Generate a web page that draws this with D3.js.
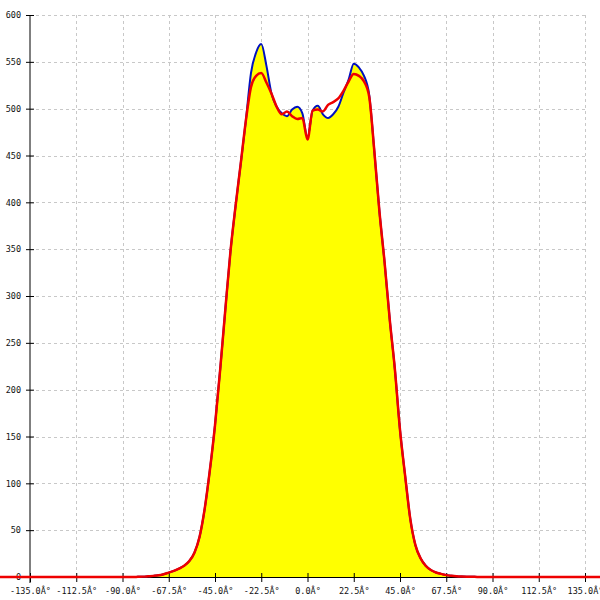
<!DOCTYPE html>
<html>
<head>
<meta charset="utf-8">
<script src="https://cdn.jsdelivr.net/npm/d3@7"></script>
<style>
html,body{margin:0;padding:0;background:#fff;}
svg{display:block;}
</style>
</head>
<body>
<svg id="chart" width="600" height="600"></svg>
<script>
// Angles (degrees)
const angles = [-180,
 -90, -87.5, -85, -82.5, -80, -77.5, -75, -72.5, -70, -67.5, -65, -62.5, -60, -57.5, -55, -52.5,
 -50, -47.5, -45, -42.5, -40, -37.5, -35, -32.5, -30, -27.5, -25, -22.5, -20, -17.5, -15, -12.5,
 -10, -7.5, -5, -2.5, 0, 2.5, 5, 7.5, 10, 12.5, 15, 17.5, 20, 22.5, 25, 27.5, 30, 32.5,
 35, 37.5, 40, 42.5, 45, 47.5, 50, 52.5, 55, 57.5, 60, 62.5, 65, 67.5, 70, 72.5, 75, 77.5,
 80, 82.5, 85, 87.5, 90,
 180];
// Blue series (filled yellow)
const blueValues = [0,
 0, 0, 0, 0.2, 0.4, 0.8, 1.2, 1.8, 3, 4.7, 6.5, 9, 12, 17, 26, 43,
 73, 114, 162, 221, 285, 347, 396, 441, 487, 538, 560, 569, 546, 516, 502, 495,
 492, 499, 502, 495, 469, 498, 503, 494, 490, 494, 502, 517, 531, 548, 544, 535, 515, 455,
 390, 336, 275, 222, 157, 108, 62, 34, 20, 12, 7.5, 4.8, 3.3, 2, 1.3, 0.8, 0.5, 0.3,
 0.2, 0.1, 0, 0, 0,
 0];
// Red series
const redValues = [0,
 0, 0, 0, 0.2, 0.4, 0.8, 1.2, 1.8, 3, 4.7, 6.5, 9, 12, 17, 26, 43,
 73, 114, 162, 221, 285, 347, 396, 441, 487, 523, 535, 538, 528, 516, 502, 494,
 497, 492, 489, 490, 467, 498, 499, 497, 504, 507, 511, 519, 529, 537, 535, 529, 513, 455,
 390, 336, 275, 222, 157, 108, 62, 34, 20, 12, 7.5, 4.8, 3.3, 2, 1.3, 0.8, 0.5, 0.3,
 0.2, 0.1, 0, 0, 0,
 0];
const xTicks = [-135, -112.5, -90, -67.5, -45, -22.5, 0, 22.5, 45, 67.5, 90, 112.5, 135];
const xTickLabels = ["-135.0Â°", "-112.5Â°", "-90.0Â°", "-67.5Â°", "-45.0Â°", "-22.5Â°", "0.0Â°",
  "22.5Â°", "45.0Â°", "67.5Â°", "90.0Â°", "112.5Â°", "135.0Â°"];
const yTicks = [0, 50, 100, 150, 200, 250, 300, 350, 400, 450, 500, 550, 600];

const svg = d3.select("#chart");
const x = d3.scaleLinear().domain([-135, 135]).range([30, 585]);
const y = d3.scaleLinear().domain([0, 600]).range([577, 15]);

const blue = angles.map((a, i) => ({a, v: blueValues[i]}));
const red = angles.map((a, i) => ({a, v: redValues[i]}));

// grid
const grid = svg.append("g").attr("stroke", "#c8c8c8").attr("stroke-width", 1)
  .attr("stroke-dasharray", "3,3").attr("shape-rendering", "crispEdges");
grid.selectAll("line.v").data(xTicks.slice(1)).join("line")
  .attr("x1", d => Math.round(x(d)) + 0.5).attr("x2", d => Math.round(x(d)) + 0.5)
  .attr("y1", y(600)).attr("y2", y(0));
grid.selectAll("line.h").data(yTicks.slice(1)).join("line")
  .attr("x1", x(-135)).attr("x2", x(135))
  .attr("y1", d => Math.round(y(d)) + 0.5).attr("y2", d => Math.round(y(d)) + 0.5);

// area
const area = d3.area().x(d => x(d.a)).y0(y(0)).y1(d => y(d.v)).curve(d3.curveMonotoneX);
svg.append("path").datum(blue).attr("d", area).attr("fill", "#ffff00");

// axes
const yAxis = d3.axisLeft(y).tickValues(yTicks).tickSize(4).tickFormat(d3.format("d"));
const gy = svg.append("g").attr("transform", `translate(${x(-135)},0)`).call(yAxis);
gy.select(".domain").attr("d", `M0,${y(600)}V${y(0) + 6}`).attr("stroke", "#000");
gy.selectAll(".tick line").attr("x1", -4).attr("x2", 4).attr("stroke", "#000");
gy.selectAll(".tick text").attr("x", -9).attr("font-family", "DejaVu Sans Mono")
  .attr("font-size", 8.5).attr("fill", "#111");

const xAxis = d3.axisBottom(x).tickValues(xTicks).tickSize(5)
  .tickFormat((d, i) => xTickLabels[i]);
const gx = svg.append("g").attr("transform", `translate(0,${y(0)})`).call(xAxis);
gx.select(".domain").attr("stroke", "#000");
gx.selectAll(".tick line").attr("y1", -4).attr("y2", 5).attr("stroke", "#000");
gx.selectAll(".tick text").attr("y", 11).attr("font-family", "DejaVu Sans Mono")
  .attr("font-size", 8.5).attr("fill", "#111");
svg.selectAll(".domain").attr("stroke-width", 1);

// lines
const line = d3.line().x(d => x(d.a)).y(d => y(d.v)).curve(d3.curveMonotoneX);
svg.append("path").datum(blue).attr("d", line).attr("fill", "none")
  .attr("stroke", "#0010c0").attr("stroke-width", 2);
svg.append("path").datum(red).attr("d", line).attr("fill", "none")
  .attr("stroke", "#ee0000").attr("stroke-width", 2.5);
</script>
</body>
</html>
